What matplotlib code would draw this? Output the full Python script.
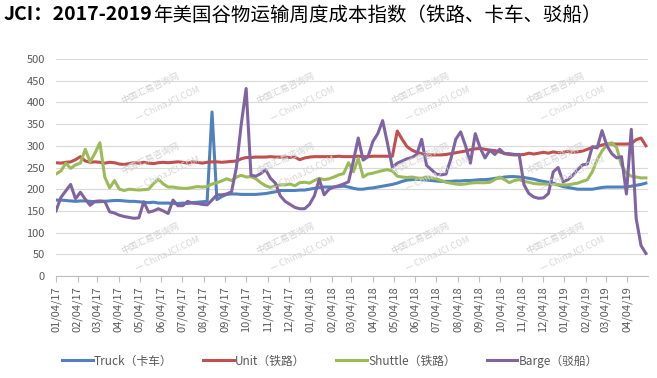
import pandas as pd
import matplotlib.pyplot as plt
import matplotlib.dates as mdates
import numpy as np

plt.rcParams['font.family'] = ['Noto Sans CJK SC', 'DejaVu Sans']

# weekly data, first week 01/04/17
start = '2017-01-04'

truck = [175, 175, 174, 173, 172, 173, 173, 172, 171, 171,
         172, 173, 174, 174, 173, 172, 172, 171, 170, 169,
         170, 168, 168, 168, 167, 167, 168, 167, 169, 170,
         171, 172, 378, 176, 183, 188, 189, 189, 188, 188,
         188, 188, 189, 190, 192, 194, 197, 197, 197, 197,
         198, 198, 200, 202, 204, 205, 205, 205, 206, 207,
         205, 202, 200, 200, 202, 203, 205, 207, 209, 211,
         214, 218, 221, 222, 223, 222, 221, 220, 219, 218,
         218, 218, 219, 219, 220, 220, 221, 222, 222, 223,
         225, 226, 228, 229, 229, 228, 227, 225, 223, 220,
         218, 216, 214, 210, 206, 204, 202, 200, 200, 200,
         200, 202, 204, 205, 205, 205, 205, 205, 207, 209,
         211, 214]

unit = [261, 260, 262, 263, 268, 275, 265, 262, 263, 262,
        260, 262, 261, 258, 257, 259, 261, 260, 262, 260,
        259, 261, 262, 261, 262, 263, 262, 260, 263, 262,
        260, 262, 263, 263, 262, 263, 264, 265, 270, 273,
        273, 274, 274, 274, 275, 274, 274, 274, 273, 274,
        268, 272, 274, 275, 275, 275, 275, 275, 276, 275,
        275, 275, 276, 275, 275, 276, 276, 276, 276, 276,
        334, 315, 298, 290, 285, 282, 279, 279, 279, 279,
        280, 282, 284, 286, 288, 291, 293, 294, 292, 290,
        289, 286, 282, 280, 279, 279, 280, 283, 281, 283,
        285, 283, 286, 284, 285, 287, 285, 286, 288, 292,
        296, 298, 302, 304, 304, 304, 304, 304, 305, 314,
        318, 300]

shuttle = [235, 242, 260, 248, 256, 260, 292, 263, 283, 307,
           228, 203, 220, 200, 197, 200, 199, 198, 199, 200,
           213, 223, 212, 205, 205, 203, 202, 202, 204, 206,
           205, 206, 212, 215, 219, 224, 220, 228, 232, 228,
           229, 224, 215, 208, 204, 208, 210, 210, 212, 208,
           215, 216, 214, 220, 225, 222, 224, 228, 233, 236,
           261, 240, 271, 228, 235, 237, 240, 243, 245, 242,
           230, 228, 227, 228, 226, 225, 228, 226, 224, 220,
           216, 214, 212, 211, 212, 214, 215, 215, 215, 216,
           222, 228, 222, 215, 220, 222, 218, 216, 213, 212,
           212, 211, 211, 210, 210, 210, 212, 214, 218, 222,
           240, 268, 288, 303, 307, 296, 255, 237, 230, 228,
           226, 226]

barge = [150, 181, 196, 211, 178, 193, 177, 163, 172, 173,
         172, 148, 145, 140, 137, 135, 133, 134, 171, 147,
         150, 155, 150, 144, 175, 162, 162, 172, 168, 167,
         165, 164, 175, 187, 187, 189, 194, 250, 350, 432,
         232, 230, 236, 245, 225, 214, 185, 172, 165, 158,
         155, 155, 165, 185, 223, 187, 200, 205, 208, 212,
         217, 265, 318, 267, 275, 310, 328, 358, 305, 250,
         260, 265, 270, 273, 280, 315, 255, 245, 235, 233,
         235, 270, 315, 332, 300, 260, 328, 295, 272, 290,
         280, 292, 282, 282, 280, 280, 210, 190, 182, 179,
         180, 190, 240, 250, 217, 222, 232, 245, 256, 258,
         298, 295, 335, 300, 282, 272, 275, 189, 338, 133,
         70, 52]

names = ['Truck（卡车）', 'Unit（铁路）', 'Shuttle（铁路）', 'Barge（驳船）']
colors = ['#4f81bd', '#c0504d', '#9bbb59', '#8064a2']

dates = pd.date_range(start, periods=len(truck), freq='7D')
tick_dates = pd.date_range(start, '2019-04-04', freq=pd.DateOffset(months=1))

fig = plt.figure(figsize=(6.57, 3.78), dpi=100)
ax = fig.add_axes([56/657, 1-276/378, (648-56)/657, (276-59)/378])

# watermark
for wx in [150, 285, 420, 555]:
    for wy in [88, 158, 238]:
        fig.text(wx/657, 1-wy/378, '中国汇易咨询网', fontsize=6.5, color='#d2d2d2',
                 rotation=25, ha='center', va='center', zorder=0)
        fig.text((wx+18)/657, 1-(wy+16)/378, '— ChinaJCI.COM', fontsize=6.5, color='#d6d6d6',
                 rotation=25, ha='center', va='center', zorder=0)

for s, n, c in zip([truck, unit, shuttle, barge], names, colors):
    ax.plot(dates, s, color=c, lw=2.2, label=n, solid_joinstyle='round')

ax.set_ylim(0, 500)
ax.set_yticks(np.arange(0, 501, 50))
ax.set_xlim(pd.Timestamp(start), pd.Timestamp(start) + pd.Timedelta(days=850))
ax.set_xticks(tick_dates)
ax.xaxis.set_major_formatter(mdates.DateFormatter('%m/%d/%y'))
plt.setp(ax.get_xticklabels(), rotation=90)

ax.grid(axis='y', color='#d9d9d9', lw=0.8)
ax.set_axisbelow(True)
ax.patch.set_alpha(0)
for sp in ['top', 'right', 'left']:
    ax.spines[sp].set_visible(False)
ax.spines['bottom'].set_color('#bfbfbf')
ax.tick_params(axis='y', length=0, labelsize=8, labelcolor='#595959', pad=8)
ax.tick_params(axis='x', length=4, color='#bfbfbf', labelsize=8, labelcolor='#595959')

fig.legend(loc='center', bbox_to_anchor=(330/657, 1-361/378), ncol=4, frameon=False,
           fontsize=8.5, handlelength=2.6, columnspacing=2.6, handletextpad=0.1,
           labelcolor='#595959')

t1 = fig.text(4/657, 1-15/378, 'JCI：2017-2019', fontsize=14, fontweight='bold', va='center')
fig.canvas.draw()
bb = t1.get_window_extent()
fig.text(bb.x1/fig.bbox.width, 1-15/378, '年美国谷物运输周度成本指数（铁路、卡车、驳船）',
         fontsize=14, va='center')

fig.savefig('out.png', dpi=100)
